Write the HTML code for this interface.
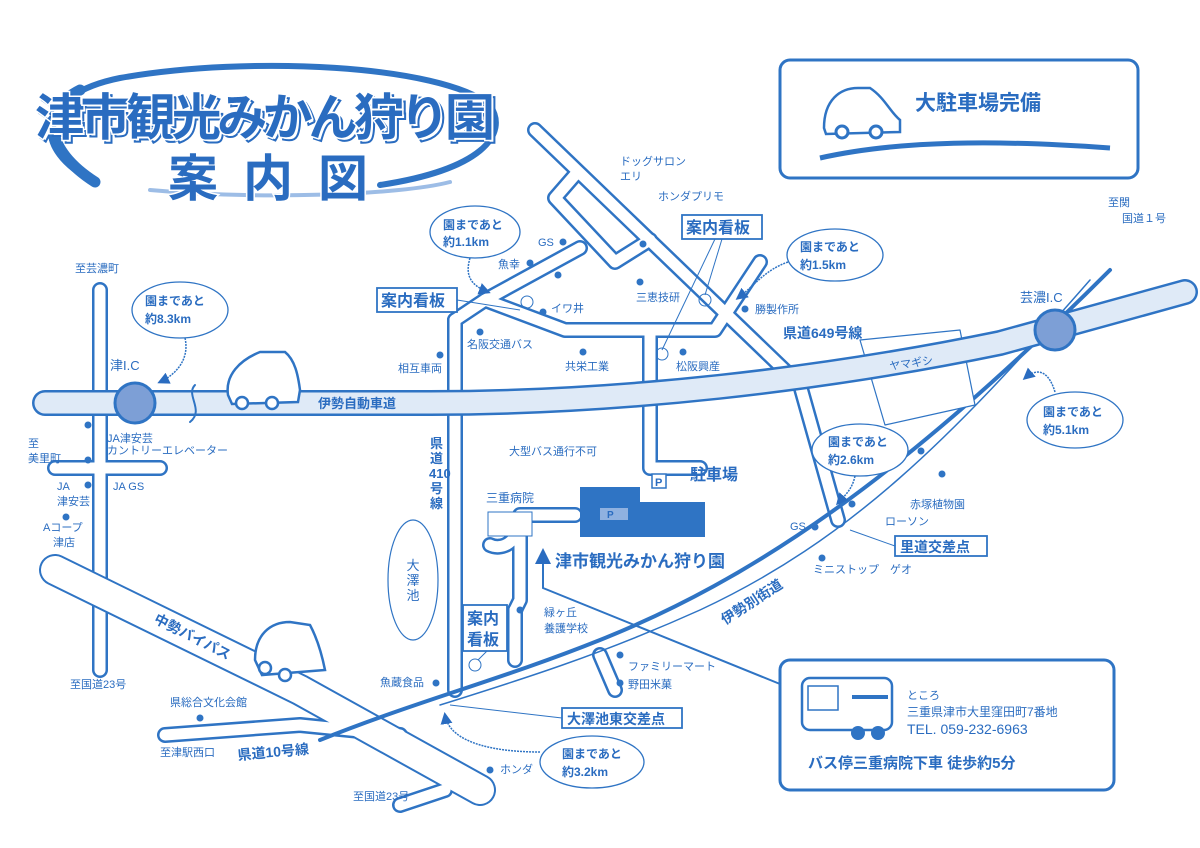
<!DOCTYPE html>
<html><head><meta charset="utf-8"><style>
html,body{margin:0;padding:0;background:#fff}
svg{display:block}
text{font-family:"Liberation Sans","Noto Sans CJK JP",sans-serif;fill:#2a6cc0}
.s{font-size:11px}
.b{font-weight:bold}
</style></head><body>
<svg width="1200" height="848" viewBox="0 0 1200 848" xmlns="http://www.w3.org/2000/svg">
<defs>
<marker id="ar" markerWidth="8" markerHeight="8" refX="6" refY="4" orient="auto"><path d="M0,0 L8,4 L0,8 z" fill="#2a6cc0"/></marker>
</defs>
<g fill="none" stroke-linecap="round" stroke-linejoin="round">
<!-- title swoosh -->
<path d="M95,182 C30,150 35,95 120,78 C250,55 440,65 490,105 C510,135 480,170 380,185" stroke="#2f74c4" stroke-width="6"/>
<path d="M95,182 C45,150 40,110 80,90" stroke="#2f74c4" stroke-width="11"/>
<path d="M150,190 C260,200 400,195 450,182" stroke="#9dbde6" stroke-width="4"/>

<!-- roads -->
<g stroke="#2f74c4" stroke-width="16">
 <path d="M100,290 L100,670"/>
 <path d="M55,468 L160,468"/>
 <path d="M455,320 L455,690"/>
 <path d="M455,320 L485,300 L565,330 L715,330 L760,262"/>
 <path d="M485,300 L580,248"/>
 <path d="M535,130 L800,385 L838,520"/>
 <path d="M575,175 L555,198 L615,262 L650,240"/>
 <path d="M650,335 L650,468 L700,468"/>
 <path d="M575,515 L520,515 C520,545 500,550 490,545"/>
 <path d="M520,520 L520,600 L515,610"/>
 <path d="M515,610 L515,660"/>
 <path d="M165,735 L300,725 L400,735"/>
 <path d="M400,805 L445,790"/>
 <path d="M600,655 L615,690"/>
</g>
<g stroke="#fff" stroke-width="11">
 <path d="M100,290 L100,670"/>
 <path d="M55,468 L160,468"/>
 <path d="M455,320 L455,690"/>
 <path d="M455,320 L485,300 L565,330 L715,330 L760,262"/>
 <path d="M485,300 L580,248"/>
 <path d="M535,130 L800,385 L838,520"/>
 <path d="M575,175 L555,198 L615,262 L650,240"/>
 <path d="M650,335 L650,468 L700,468"/>
 <path d="M575,515 L520,515 C520,545 500,550 490,545"/>
 <path d="M520,520 L520,600 L515,610"/>
 <path d="M515,610 L515,660"/>
 <path d="M600,655 L615,690"/>
</g>
<path d="M55,570 L300,690 L480,790" stroke="#2f74c4" stroke-width="32"/>
<path d="M55,570 L300,690 L480,790" stroke="#fff" stroke-width="28"/>
<path d="M165,735 L300,725 L400,735" stroke="#fff" stroke-width="11"/>
<path d="M400,805 L445,790" stroke="#fff" stroke-width="11"/>

<!-- 伊勢別街道 -->
<path d="M320,740 C420,700 500,680 600,640 C750,580 900,480 1110,270" stroke="#2f74c4" stroke-width="4"/>
<path d="M440,705 C520,680 600,655 700,610 C850,540 950,440 1090,280" stroke="#2f74c4" stroke-width="1.5"/>

<!-- ヤマギシ -->
<path d="M860,340 L960,330 L975,405 L885,425 Z" stroke="#2f74c4" stroke-width="1.2" fill="#fff"/>

<!-- expressway -->
<path d="M45,403 L430,403 C620,403 820,380 1000,343 L1185,292" stroke="#2f74c4" stroke-width="26"/>
<path d="M45,403 L430,403 C620,403 820,380 1000,343 L1185,292" stroke="#dfeaf7" stroke-width="21"/>
<path d="M195,385 C185,395 205,410 190,422" stroke="#2f74c4" stroke-width="2"/>
</g>
<circle cx="135" cy="403" r="20" fill="#7d9fd6" stroke="#2f74c4" stroke-width="3"/>
<circle cx="1055" cy="330" r="20" fill="#7d9fd6" stroke="#2f74c4" stroke-width="3"/>

<ellipse cx="413" cy="580" rx="25" ry="60" fill="#fff" stroke="#2f74c4" stroke-width="1.2"/>
<text x="413" y="570" text-anchor="middle" style="font-size:13px">大</text>
<text x="413" y="585" text-anchor="middle" style="font-size:13px">澤</text>
<text x="413" y="600" text-anchor="middle" style="font-size:13px">池</text>

<path d="M580,487 L640,487 L640,502 L705,502 L705,537 L580,537 Z" fill="#2f74c4"/>
<rect x="600" y="508" width="28" height="12" fill="#8fb1e0"/>
<text x="607" y="518" style="font-size:10px" class="b">P</text>
<rect x="652" y="474" width="14" height="14" fill="#fff" stroke="#2f74c4" stroke-width="1.5"/>
<text x="655" y="486" style="font-size:11px" class="b">P</text>
<rect x="488" y="512" width="44" height="24" fill="#fff" stroke="#2f74c4" stroke-width="1"/>

<g style="font-weight:bold">
<text x="38" y="138" style="font-size:50px;fill:#fff;stroke:#2a6cc0;stroke-width:2" textLength="460">津市観光みかん狩り園</text>
<text x="35" y="135" style="font-size:50px;fill:#2a6cc0;stroke:#fff;stroke-width:3;paint-order:stroke" textLength="460">津市観光みかん狩り園</text>
<text x="168" y="196" style="font-size:50px;fill:#2a6cc0;stroke:#fff;stroke-width:3;paint-order:stroke" textLength="200">案内図</text>
</g>

<rect x="780" y="60" width="358" height="118" rx="10" fill="none" stroke="#2f74c4" stroke-width="3"/>
<text x="915" y="110" class="b" style="font-size:21px">大駐車場完備</text>
<path d="M820,158 C900,140 1000,140 1110,148" stroke="#2f74c4" stroke-width="5" fill="none"/>
<path d="M824,128 C824,100 840,88 858,88 L870,88 C885,98 890,112 900,120 L900,132 L826,134 Z" fill="#fff" stroke="#2f74c4" stroke-width="2.5"/>
<circle cx="842" cy="132" r="6" fill="#fff" stroke="#2f74c4" stroke-width="3"/>
<circle cx="876" cy="132" r="6" fill="#fff" stroke="#2f74c4" stroke-width="3"/>

<rect x="780" y="660" width="334" height="130" rx="10" fill="#fff" stroke="#2f74c4" stroke-width="3"/>
<path d="M780,684 L543,588 L543,552" stroke="#2f74c4" stroke-width="2" fill="none" marker-end="url(#ar)"/>
<rect x="802" y="678" width="90" height="52" rx="8" fill="#fff" stroke="#2f74c4" stroke-width="2.5"/>
<rect x="808" y="686" width="30" height="24" fill="none" stroke="#2f74c4" stroke-width="1.5"/>
<rect x="852" y="695" width="36" height="4" fill="#2f74c4"/>
<circle cx="858" cy="733" r="7" fill="#2f74c4"/><circle cx="878" cy="733" r="7" fill="#2f74c4"/>
<text x="907" y="699" class="s">ところ</text>
<text x="907" y="716" style="font-size:12px">三重県津市大里窪田町7番地</text>
<text x="907" y="734" style="font-size:14px">TEL. 059-232-6963</text>
<text x="808" y="768" class="b" style="font-size:15px">バス停三重病院下車 徒歩約5分</text>

<g fill="#fff" stroke="#2f74c4" stroke-width="1.3">
<ellipse cx="475" cy="232" rx="45" ry="26"/>
<ellipse cx="180" cy="310" rx="48" ry="28"/>
<ellipse cx="835" cy="255" rx="48" ry="26"/>
<ellipse cx="1075" cy="420" rx="48" ry="28"/>
<ellipse cx="860" cy="450" rx="48" ry="26"/>
<ellipse cx="592" cy="762" rx="52" ry="26"/>
</g>
<g class="b" style="font-size:12px">
<text x="443" y="229">園まであと</text><text x="443" y="246">約1.1km</text>
<text x="145" y="305">園まであと</text><text x="145" y="323">約8.3km</text>
<text x="800" y="251">園まであと</text><text x="800" y="269">約1.5km</text>
<text x="1043" y="416">園まであと</text><text x="1043" y="434">約5.1km</text>
<text x="828" y="446">園まであと</text><text x="828" y="464">約2.6km</text>
<text x="562" y="758">園まであと</text><text x="562" y="776">約3.2km</text>
</g>
<g fill="none" stroke="#2f74c4" stroke-width="1.5" stroke-dasharray="2,1">
<path d="M470,258 C465,275 470,285 488,292" marker-end="url(#ar)"/>
<path d="M185,338 C190,360 175,375 160,382" marker-end="url(#ar)"/>
<path d="M788,262 C765,270 755,285 738,298" marker-end="url(#ar)"/>
<path d="M1055,392 C1050,375 1040,365 1025,378" marker-end="url(#ar)"/>
<path d="M855,476 C852,490 845,495 838,503" marker-end="url(#ar)"/>
<path d="M540,752 C500,752 450,745 445,715" marker-end="url(#ar)"/>
</g>

<g fill="#fff" stroke="#2f74c4" stroke-width="1.8">
<rect x="377" y="288" width="80" height="24"/>
<rect x="682" y="215" width="80" height="24"/>
<rect x="463" y="605" width="44" height="46"/>
<rect x="562" y="708" width="120" height="20"/>
<rect x="895" y="536" width="92" height="20"/>
</g>
<g class="b" style="font-size:16px">
<text x="381" y="306">案内看板</text>
<text x="686" y="233">案内看板</text>
<text x="467" y="624">案内</text><text x="467" y="645">看板</text>
</g>
<text x="567" y="724" class="b" style="font-size:14px">大澤池東交差点</text>
<text x="900" y="552" class="b" style="font-size:14px">里道交差点</text>
<g stroke="#2f74c4" stroke-width="1" fill="none">
<path d="M457,300 L520,310"/><circle cx="527" cy="302" r="6"/>
<path d="M722,239 L705,295"/><circle cx="705" cy="300" r="6"/>
<path d="M715,239 L662,350"/><circle cx="662" cy="354" r="6"/>
<path d="M487,651 L478,660"/><circle cx="475" cy="665" r="6"/>
<path d="M562,718 L450,705"/>
<path d="M895,546 L850,530"/>
</g>

<text x="318" y="408" class="b" style="font-size:13px">伊勢自動車道</text>
<text x="783" y="338" class="b" style="font-size:14px">県道649号線</text>
<g class="b" style="font-size:13px"><text x="430" y="448">県</text><text x="430" y="463">道</text><text x="429" y="478">410</text><text x="430" y="493">号</text><text x="430" y="508">線</text></g>
<text x="0" y="0" class="b" style="font-size:14px" transform="translate(153,622) rotate(27)">中勢バイパス</text>
<text x="0" y="0" class="b" style="font-size:14px" transform="translate(238,760) rotate(-5)">県道10号線</text>
<text x="0" y="0" class="b" style="font-size:14px" transform="translate(725,625) rotate(-33)">伊勢別街道</text>
<text x="690" y="480" class="b" style="font-size:16px">駐車場</text>
<text x="555" y="567" class="b" style="font-size:17px">津市観光みかん狩り園</text>
<text x="110" y="370" style="font-size:13px">津I.C</text>
<text x="1020" y="302" style="font-size:13px">芸濃I.C</text>
<text x="890" y="370" class="s" transform="rotate(-8 890 370)">ヤマギシ</text>

<g class="s">
<text x="75" y="272">至芸濃町</text>
<text x="1108" y="206">至関</text><text x="1122" y="222">国道１号</text>
<text x="620" y="165">ドッグサロン</text><text x="620" y="180">エリ</text>
<text x="658" y="200">ホンダプリモ</text>
<text x="538" y="246">GS</text>
<text x="498" y="268">魚幸</text>
<text x="551" y="312">イワ井</text>
<text x="636" y="301">三恵技研</text>
<text x="755" y="313">勝製作所</text>
<text x="467" y="348">名阪交通バス</text>
<text x="398" y="372">相互車両</text>
<text x="565" y="370">共栄工業</text>
<text x="676" y="370">松阪興産</text>
<text x="107" y="442">JA津安芸</text>
<text x="107" y="454">カントリーエレベーター</text>
<text x="28" y="447">至</text><text x="28" y="462">美里町</text>
<text x="57" y="490">JA</text><text x="57" y="505">津安芸</text>
<text x="113" y="490">JA GS</text>
<text x="43" y="531">Aコープ</text><text x="53" y="546">津店</text>
<text x="70" y="688">至国道23号</text>
<text x="170" y="706">県総合文化会館</text>
<text x="160" y="756">至津駅西口</text>
<text x="353" y="800">至国道23号</text>
<text x="380" y="686">魚蔵食品</text>
<text x="509" y="455">大型バス通行不可</text>
<text x="486" y="502" style="font-size:12px">三重病院</text>
<text x="544" y="616">緑ヶ丘</text><text x="544" y="632">養護学校</text>
<text x="628" y="670">ファミリーマート</text>
<text x="628" y="688">野田米菓</text>
<text x="500" y="773">ホンダ</text>
<text x="910" y="508">赤塚植物園</text>
<text x="885" y="525">ローソン</text>
<text x="790" y="530">GS</text>
<text x="813" y="573">ミニストップ　ゲオ</text>
</g>
<g fill="#2f74c4">
<circle cx="563" cy="242" r="3.5"/><circle cx="530" cy="263" r="3.5"/><circle cx="558" cy="275" r="3.5"/>
<circle cx="643" cy="244" r="3.5"/><circle cx="640" cy="282" r="3.5"/><circle cx="543" cy="312" r="3.5"/>
<circle cx="480" cy="332" r="3.5"/><circle cx="440" cy="355" r="3.5"/><circle cx="583" cy="352" r="3.5"/>
<circle cx="683" cy="352" r="3.5"/><circle cx="745" cy="309" r="3.5"/>
<circle cx="88" cy="425" r="3.5"/><circle cx="88" cy="460" r="3.5"/><circle cx="88" cy="485" r="3.5"/><circle cx="66" cy="517" r="3.5"/>
<circle cx="200" cy="718" r="3.5"/><circle cx="436" cy="683" r="3.5"/><circle cx="520" cy="610" r="3.5"/>
<circle cx="620" cy="655" r="3.5"/><circle cx="620" cy="683" r="3.5"/><circle cx="490" cy="770" r="3.5"/>
<circle cx="921" cy="451" r="3.5"/><circle cx="942" cy="474" r="3.5"/><circle cx="852" cy="504" r="3.5"/>
<circle cx="815" cy="527" r="3.5"/><circle cx="822" cy="558" r="3.5"/>
</g>

<g fill="#fff" stroke="#2f74c4" stroke-width="2.5">
<path d="M228,395 C225,375 240,360 260,352 L285,352 C295,360 298,375 300,390 L298,402 L232,404 Z"/>
<circle cx="242" cy="403" r="6"/><circle cx="272" cy="403" r="6"/>
<path d="M255,660 C255,635 270,622 290,622 L310,625 C318,640 322,655 325,670 L262,675 Z"/>
<circle cx="265" cy="668" r="6"/><circle cx="285" cy="675" r="6"/>
</g>
</svg>
</body></html>
